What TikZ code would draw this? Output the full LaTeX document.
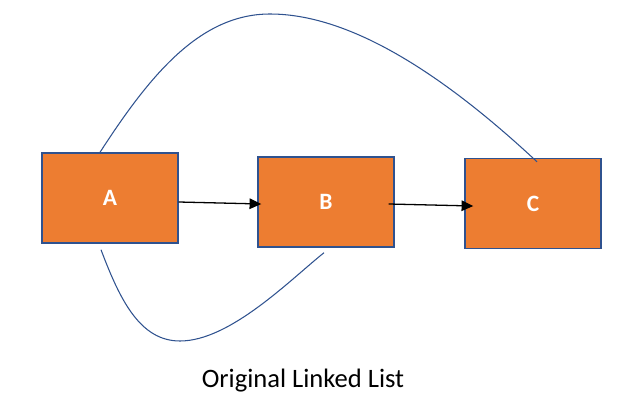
\documentclass[tikz,border=0pt]{standalone}
\usepackage{fontspec}
\setmainfont{Carlito}
\usetikzlibrary{positioning, calc, arrows.meta}
\definecolor{boxfill}{HTML}{ED7D31}
\definecolor{boxline}{HTML}{2F528F}

\begin{document}
\begin{tikzpicture}[x=0.03cm, y=-0.03cm, >=Triangle,
    listnode/.style={draw=boxline, fill=boxfill, line width=1.2pt, minimum width=4.08cm, minimum height=2.7cm, inner sep=0pt, text=white, font=\fontsize{20}{24}\selectfont\bfseries},
    nextlink/.style={line width=1.1pt, black},
    skiplink/.style={boxline, line width=0.9pt}]
    \useasboundingbox (0,0) rectangle (640,416);

    % List nodes
    \node[listnode] (A) at (110,198) {A};
    \node[listnode] (B) at (326,202) {B};
    \node[listnode] (C) at (533,203.5) {C};

    % Next pointers
    \draw[nextlink, -{Triangle[length=10pt, width=9pt]}] ($(A.east)+(0,4)$) -- ($(B.west)+(4,2)$);
    \draw[nextlink, -{Triangle[length=10pt, width=9pt]}] ($(B.east)+(-6,2)$) -- ($(C.west)+(9,2.5)$);

    % Curved links
    \coordinate (atop) at ($(A.north)+(-10,0)$);
    \coordinate (ctop) at ($(C.north)+(4,4)$);
    \draw[skiplink] (atop) .. controls (150,75) and (200,14) .. (270,14) .. controls (360,14) and (460,90) .. (ctop);

    \coordinate (abot) at ($(A.south)+(-9,6)$);
    \coordinate (bbot) at ($(B.south)+(-2,5)$);
    \draw[skiplink] (abot) .. controls (120,300) and (140,341) .. (180,341) .. controls (230,341) and (290,280) .. (bbot);

    % Caption
    \node[font=\fontsize{22.7}{26}\selectfont] (caption) at (303,381) {Original Linked List};
\end{tikzpicture}
\end{document}
